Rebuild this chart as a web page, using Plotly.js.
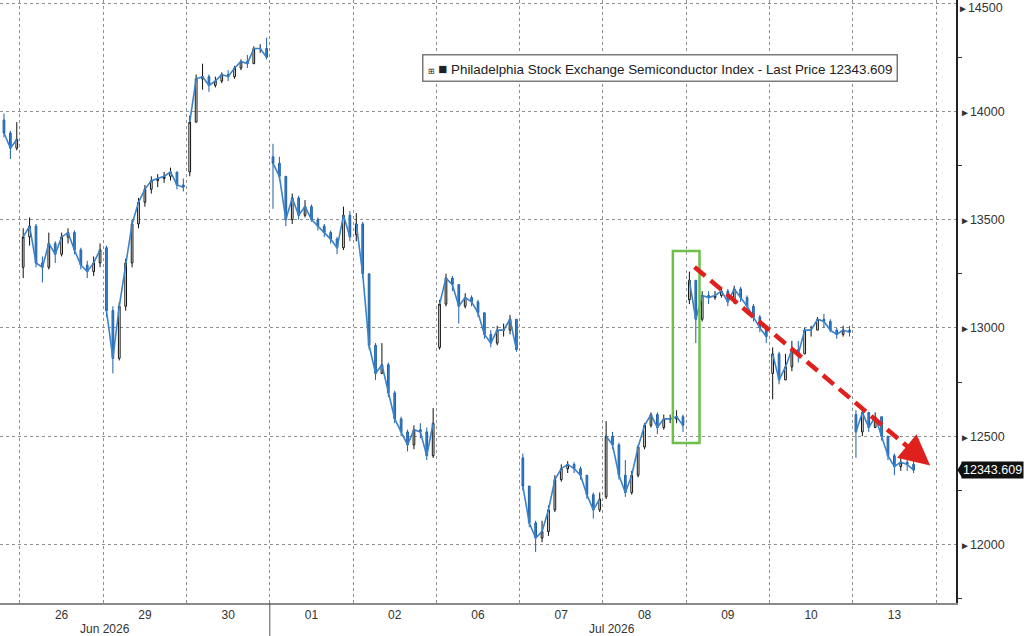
<!DOCTYPE html>
<html>
<head>
<meta charset="utf-8">
<script src="https://cdn.plot.ly/plotly-3.0.1.min.js"></script>
<style>
html,body{margin:0;padding:0;background:#fff;}
#chart{width:1024px;height:636px;}
</style>
</head>
<body>
<div id="chart"></div>
<script>
// ---- Data (30-minute bars) ----
const dayLabels = ['25','26','29','30','01','02','06','07','08','09','10','13'];
const barsPerDay = 13;
const firstBar = [10,0,0,0,0,0,0,0,0,0,0,0];
const dayOpen = [13960,13280,13370,13720,13790,13430,12910,12400,12220,13130,12790,12600];

const jun25Close = [13900,13830,13870];
const jun25High  = [13990,13910,13950];
const jun25Low   = [13880,13780,13820];

const jun26Close = [13420,13470,13300,13280,13390,13340,13420,13440,13360,13290,13260,13300,13360];
const jun26High  = [13460,13510,13480,13330,13440,13400,13440,13460,13450,13370,13310,13330,13390];
const jun26Low   = [13230,13380,13280,13210,13270,13300,13330,13390,13340,13270,13230,13240,13280];

const jun29Close = [13080,12860,13100,13300,13480,13580,13640,13680,13690,13700,13720,13660,13650];
const jun29High  = [13380,13100,13120,13320,13500,13600,13660,13700,13710,13720,13740,13720,13690];
const jun29Low   = [13050,12790,12850,13080,13280,13460,13560,13620,13650,13670,13680,13640,13630];

const jun30Close = [13950,14150,14160,14120,14140,14170,14160,14200,14230,14220,14290,14290,14250];
const jun30High  = [13980,14170,14220,14170,14160,14180,14190,14210,14240,14260,14300,14310,14340];
const jun30Low   = [13700,13950,14100,14090,14110,14130,14140,14150,14190,14200,14220,14270,14240];

const jul01Close = [13760,13700,13500,13600,13520,13560,13500,13470,13440,13410,13370,13520,13420];
const jul01High  = [13850,13790,13700,13620,13610,13590,13570,13510,13480,13450,13420,13560,13540];
const jul01Low   = [13550,13680,13470,13480,13500,13510,13490,13450,13420,13390,13340,13360,13400];

const jul02Close = [13480,13250,12920,12790,12830,12700,12580,12520,12460,12530,12520,12410,12560];
const jul02High  = [13530,13490,13250,12930,12930,12840,12710,12590,12530,12550,12560,12540,12630];
const jul02Low   = [13400,13230,12900,12760,12790,12680,12560,12500,12430,12440,12490,12390,12400];

const jul06Close = [13110,13230,13200,13100,13140,13120,13070,12970,12930,12990,12990,13040,12900];
const jul06High  = [13130,13250,13240,13200,13160,13150,13130,13070,12990,13010,13020,13060,13040];
const jul06Low   = [12900,13100,13170,13020,13090,13100,13050,12950,12910,12920,12960,12970,12890];

const jul07Close = [12270,12100,12030,12060,12160,12300,12350,12370,12350,12320,12230,12160,12210];
const jul07High  = [12420,12270,12110,12110,12180,12320,12370,12385,12380,12360,12320,12240,12240];
const jul07Low   = [12250,12080,11965,12010,12040,12150,12290,12330,12330,12300,12210,12120,12150];

const jul08Close = [12500,12460,12320,12240,12320,12450,12550,12600,12540,12580,12580,12590,12550];
const jul08High  = [12570,12520,12470,12390,12340,12460,12560,12610,12610,12600,12600,12620,12600];
const jul08Low   = [12210,12440,12300,12220,12230,12310,12440,12540,12510,12530,12560,12560,12520];

const jul09Close = [13220,13040,13150,13140,13150,13170,13120,13180,13140,13100,13050,13000,12960];
const jul09High  = [13260,13220,13170,13170,13170,13190,13180,13195,13190,13150,13110,13060,13010];
const jul09Low   = [13110,12930,13030,13110,13130,13140,13100,13110,13120,13080,13030,12980,12930];

const jul10Close = [12880,12760,12820,12900,12880,12990,12990,13040,13030,12990,12970,12990,12980];
const jul10High  = [12910,12890,12880,12940,12940,13000,13010,13050,13065,13040,13000,13010,13010];
const jul10Low   = [12670,12740,12760,12800,12840,12880,12960,12990,13000,12980,12950,12960,12960];

const jul13Close = [12520,12610,12540,12590,12500,12410,12360,12380,12370,12343.609];
const jul13High  = [12620,12630,12610,12610,12590,12500,12420,12410,12395,12390];
const jul13Low   = [12400,12500,12520,12540,12480,12390,12320,12340,12340,12330];

const yTicks = [12000,12500,13000,13500,14000];
const yTopTick = 14500;
const lastPrice = 12343.609;
const seriesName = 'Philadelphia Stock Exchange Semiconductor Index - Last Price';

// ---- Build bars ----
const closesByDay = [jun25Close,jun26Close,jun29Close,jun30Close,jul01Close,jul02Close,jul06Close,jul07Close,jul08Close,jul09Close,jul10Close,jul13Close];
const highsByDay  = [jun25High,jun26High,jun29High,jun30High,jul01High,jul02High,jul06High,jul07High,jul08High,jul09High,jul10High,jul13High];
const lowsByDay   = [jun25Low,jun26Low,jun29Low,jun30Low,jul01Low,jul02Low,jul06Low,jul07Low,jul08Low,jul09Low,jul10Low,jul13Low];

const X=[],O=[],H=[],L=[],C=[], lineX=[], lineY=[];
closesByDay.forEach((cl,d)=>{
  cl.forEach((c,j)=>{
    const x = d + (firstBar[d]+j+0.5)/barsPerDay;
    X.push(x);
    O.push(j===0 ? dayOpen[d] : cl[j-1]);
    H.push(highsByDay[d][j]); L.push(lowsByDay[d][j]); C.push(c);
    lineX.push(x); lineY.push(c);
  });
  lineX.push(null); lineY.push(null);
});

const xRange = [0.76, 12.24];
const yRange = [11730, 14514];
const toPaperX = v => (v - xRange[0])/(xRange[1]-xRange[0]);

const traces = [
  {type:'scatter', mode:'lines', x:lineX, y:lineY, line:{color:'#3b82c8', width:1.6}, hoverinfo:'skip', showlegend:false, connectgaps:false},
  {type:'candlestick', x:X, open:O, high:H, low:L, close:C, showlegend:false, hoverinfo:'skip',
   whiskerwidth:0,
   increasing:{line:{color:'#111111', width:1}, fillcolor:'#ffffff'},
   decreasing:{line:{color:'#1d5fa8', width:1}, fillcolor:'#3a86d4'}}
];

const tickFont = {family:'Liberation Sans, Arial, sans-serif', size:12, color:'#333'};
const axisFont = {family:'Liberation Sans, Arial, sans-serif', size:12.5, color:'#333'};

const layout = {
  width:1024, height:636,
  margin:{l:0, r:68, t:0, b:33},
  paper_bgcolor:'#ffffff', plot_bgcolor:'#ffffff',
  boxgap:0.62,
  showlegend:false,
  font:tickFont,
  xaxis:{
    type:'linear', range:xRange, fixedrange:true,
    rangeslider:{visible:false},
    tickmode:'array',
    tickvals: dayLabels.map((_,d)=>d+0.5),
    ticktext: dayLabels,
    ticks:'', showgrid:false, zeroline:false,
    showline:true, linecolor:'#8a8a8a', linewidth:2,
    tickfont:tickFont,
    minor:{tickmode:'linear', tick0:0, dtick:1, showgrid:true, gridcolor:'#8f8f8f', griddash:'dot', gridwidth:1, ticks:''}
  },
  yaxis:{
    side:'right', range:yRange, fixedrange:true,
    tickmode:'array', tickvals:yTicks.concat([yTopTick]),
    ticktext: yTicks.map(v=>'<span style="font-size:10px">►</span>'+v).concat(['']),
    ticks:'', showgrid:true, gridcolor:'#8f8f8f', griddash:'dot', gridwidth:1,
    zeroline:false, showline:true, linecolor:'#222', linewidth:1.5,
    tickfont:axisFont,
    minor:{tickmode:'linear', tick0:11750, dtick:500, ticks:'outside', ticklen:4, tickcolor:'#333', showgrid:false}
  },
  shapes:[
    // month separator below the axis
    {type:'line', xref:'x', yref:'paper', x0:4, x1:4, y0:0, y1:-0.06, line:{color:'#555', width:1}},
    // green highlight box
    {type:'rect', xref:'x', yref:'y', x0:8.84, x1:9.16, y0:12469, y1:13355, line:{color:'#6cbf4a', width:2.5}, fillcolor:'rgba(0,0,0,0)'},
    // red dashed trend arrow shaft
    {type:'line', xref:'x', yref:'y', x0:9.10, y0:13281, x1:11.72, y1:12432, line:{color:'#e0201c', width:4.5, dash:'14px,7px'}},
    // price tag notch
    {type:'path', xref:'paper', yref:'y', path:'', line:{width:0}, fillcolor:'#111'}
  ],
  annotations:[
    {xref:'paper', yref:'paper', x:toPaperX(8.68), y:1-68.5/603, xanchor:'center', yanchor:'middle',
     text:'<span style="font-size:8px">⊞</span> <span style="font-size:15px">■</span> '+seriesName+' '+lastPrice.toFixed(3),
     showarrow:false, bgcolor:'#ffffff', bordercolor:'#7a7a7a', borderwidth:1.5, borderpad:4,
     font:{family:'Liberation Sans, Arial, sans-serif', size:13.4, color:'#222'}},
    {xref:'x', yref:'paper', x:2.02, y:0, yshift:-26, xanchor:'center', yanchor:'middle', showarrow:false,
     text:'Jun 2026', font:tickFont},
    {xref:'x', yref:'paper', x:8.11, y:0, yshift:-26, xanchor:'center', yanchor:'middle', showarrow:false,
     text:'Jul 2026', font:tickFont},
    // top tick label, kept just inside the top edge
    {xref:'paper', yref:'paper', x:1, y:1, xanchor:'left', yanchor:'top', xshift:1, showarrow:false,
     text:'<span style="font-size:10px">►</span>'+yTopTick, font:axisFont, borderpad:0},
    // arrowhead
    {xref:'x', yref:'y', x:11.93, y:12365, ax:-18, ay:-15, axref:'pixel', ayref:'pixel', text:'', showarrow:true,
     arrowhead:2, arrowsize:1.35, arrowwidth:4.5, arrowcolor:'#e0201c', standoff:0},
    // last price tag
    {xref:'paper', yref:'y', x:1, y:lastPrice, xanchor:'left', yanchor:'middle', xshift:5, showarrow:false,
     text:lastPrice.toFixed(3), bgcolor:'#111111', borderpad:1,
     font:{family:'Liberation Sans, Arial, sans-serif', size:12.5, color:'#ffffff'}}
  ]
};

// notch for the price tag, anchored to the last price value
const dy = (yRange[1]-yRange[0])/603*8;
layout.shapes[3].path = 'M 1.0015 '+lastPrice+' L 1.0065 '+(lastPrice+dy)+' L 1.0065 '+(lastPrice-dy)+' Z';

Plotly.newPlot('chart', traces, layout, {staticPlot:true, displayModeBar:false});
</script>
</body>
</html>
